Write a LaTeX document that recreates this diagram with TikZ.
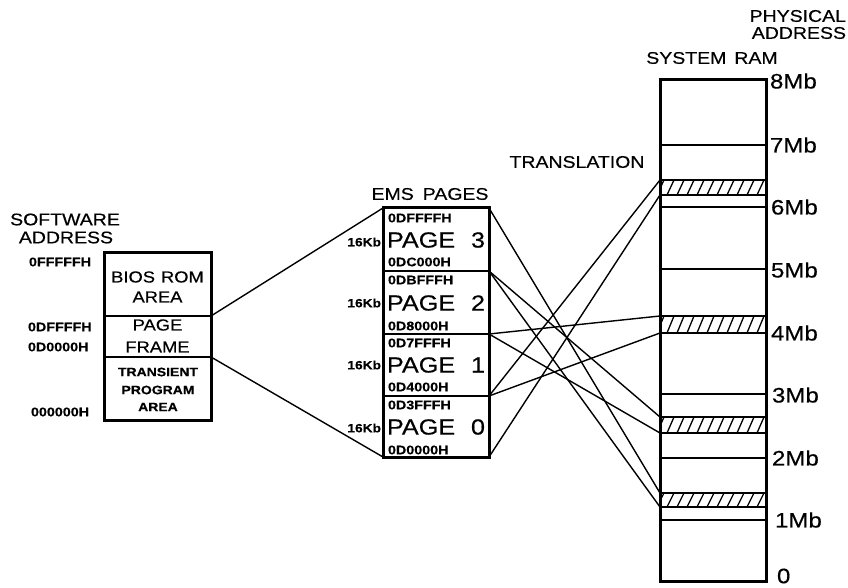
\documentclass[tikz,border=0pt]{standalone}
\usepackage{fontspec}
\setmainfont{Liberation Sans}
\newfontfamily\hf[FakeStretch=1.15,FakeBold=0.4]{Liberation Sans}
\newcommand\fsz[1]{\fontsize{#1}{#1}\selectfont}
\begin{document}
\begin{tikzpicture}[x=1bp,y=-1bp,
  every node/.style={inner sep=0pt,outer sep=0pt},
  outline/.style={line width=3bp},
  divider/.style={line width=1.8bp},
  conn/.style={line width=1.4bp},
  hatch/.style={line width=1.3bp},
  swcell/.style={draw,divider,anchor=north west,minimum width=107bp},
  emscell/.style={draw,divider,anchor=north west,minimum width=106bp},
  band/.style={draw,line width=2bp,anchor=north west,minimum width=106bp},
  title/.style={font=\hf\fsz{17}},
  hexlbl/.style={font=\hf\bfseries\fsz{12.5}},
  kblbl/.style={font=\hf\bfseries\fsz{12},anchor=east},
  pagelbl/.style={font=\hf\fsz{22}},
  mblbl/.style={font=\hf\fsz{21},anchor=west},
  boxtxt/.style={font=\hf\fsz{16}},
  smalltxt/.style={font=\hf\bfseries\fsz{12.2}}
]
\useasboundingbox (0,0) rectangle (848,588);

% ---------- software address box ----------
\node[swcell,minimum height=64bp] (bios) at (104,252) {};
\node[swcell,minimum height=41bp] (frame) at (104,316) {};
\node[swcell,minimum height=63bp] (tpa) at (104,357) {};
\draw[outline] (bios.north west) rectangle (tpa.south east);

\node[title] (swt1) at (65,219.5) {SOFTWARE};
\node[title] (swt2) at (66,237.5) {ADDRESS};
\node[hexlbl,anchor=west] (a1) at (29,262) {0FFFFFH};
\node[hexlbl,anchor=west] (a2) at (28,327) {0DFFFFH};
\node[hexlbl,anchor=west] (a3) at (28,347) {0D0000H};
\node[hexlbl,anchor=west] (a4) at (31,412) {000000H};

\node[boxtxt] (t1) at (157.5,277) {BIOS\hspace{6bp}ROM};
\node[boxtxt] (t2) at (157.5,297) {AREA};
\node[boxtxt] (t3) at (157.5,325) {PAGE};
\node[boxtxt] (t4) at (157.5,347) {FRAME};
\node[smalltxt] (t5) at (158,372) {TRANSIENT};
\node[smalltxt] (t6) at (158,390) {PROGRAM};
\node[smalltxt] (t7) at (158,407) {AREA};

% ---------- EMS pages ----------
\node[emscell,minimum height=63bp] (p3) at (383,208) {};
\node[emscell,minimum height=63bp] (p2) at (383,271) {};
\node[emscell,minimum height=62bp] (p1) at (383,334) {};
\node[emscell,minimum height=61bp] (p0) at (383,396) {};
\draw[outline] (p3.north west) rectangle (p0.south east);

\node[title] (emst) at (430,194) {EMS\hspace{9bp}PAGES};

\node[hexlbl,anchor=west] (h3a) at (388,218) {0DFFFFH};
\node[pagelbl,anchor=west] (pg3) at (387,240) {PAGE};
\node[pagelbl,anchor=east] (n3) at (485,240) {3};
\node[hexlbl,anchor=west] (h3b) at (388,262) {0DC000H};
\node[kblbl] (k3) at (381,242) {16Kb};

\node[hexlbl,anchor=west] (h2a) at (388,280) {0DBFFFH};
\node[pagelbl,anchor=west] (pg2) at (387,303) {PAGE};
\node[pagelbl,anchor=east] (n2) at (485,303) {2};
\node[hexlbl,anchor=west] (h2b) at (388,326) {0D8000H};
\node[kblbl] (k2) at (381,303) {16Kb};

\node[hexlbl,anchor=west] (h1a) at (388,343) {0D7FFFH};
\node[pagelbl,anchor=west] (pg1) at (387,365) {PAGE};
\node[pagelbl,anchor=east] (n1) at (485,365) {1};
\node[hexlbl,anchor=west] (h1b) at (388,387) {0D4000H};
\node[kblbl] (k1) at (381,365) {16Kb};

\node[hexlbl,anchor=west] (h0a) at (388,405) {0D3FFFH};
\node[pagelbl,anchor=west] (pg0) at (387,427) {PAGE};
\node[pagelbl,anchor=east] (n0) at (485,427) {0};
\node[hexlbl,anchor=west] (h0b) at (388,450) {0D0000H};
\node[kblbl] (k0) at (381,428) {16Kb};

% ---------- system RAM ----------
\node[anchor=north west,minimum width=106bp,minimum height=501bp] (ram) at (660,80) {};
\foreach \yy in {145,207,269,394,458,520}
  \draw[divider] (660,\yy) -- (766,\yy);
\node[band,minimum height=15bp] (b1) at (660,180) {};
\node[band,minimum height=17bp] (b2) at (660,316) {};
\node[band,minimum height=16bp] (b3) at (660,417) {};
\node[band,minimum height=14bp] (b4) at (660,493) {};
\foreach \t/\b in {180/195,316/333,417/433,493/507}{
  \begin{scope}
    \clip (660,\t) rectangle (766,\b);
    \foreach \x in {657,667,...,777}
      \draw[hatch] (\x,\b) -- (\x+7,\t);
  \end{scope}
}
\draw[outline] (ram.north west) rectangle (ram.south east);

\node[font=\hf\fsz{17},anchor=east] (ph1) at (846,16) {PHYSICAL};
\node[font=\hf\fsz{17},anchor=east] (ph2) at (846,33) {ADDRESS};
\node[title] (sysram) at (712,58) {SYSTEM\hspace{8bp}RAM};
\node[title] (trans) at (577,162) {TRANSLATION};

\node[mblbl] (m8) at (770,81) {8Mb};
\node[mblbl] (m7) at (770,145) {7Mb};
\node[mblbl] (m6) at (771,207) {6Mb};
\node[mblbl] (m5) at (771,270) {5Mb};
\node[mblbl] (m4) at (771,333) {4Mb};
\node[mblbl] (m3) at (772,395) {3Mb};
\node[mblbl] (m2) at (772,458) {2Mb};
\node[mblbl] (m1) at (775,520) {1Mb};
\node[mblbl] (m0) at (777,576) {0};

% ---------- connectors ----------
\draw[conn] (frame.north east) -- (p3.north west);
\draw[conn] (frame.south east) -- (p0.south west);
\draw[conn] (p0.north east) -- (b1.north west);
\draw[conn] (p0.south east) -- (b1.south west);
\draw[conn] (p1.north east) -- (b2.north west);
\draw[conn] (p1.south east) -- (b2.south west);
\draw[conn] (p2.north east) -- (b3.north west);
\draw[conn] (p2.south east) -- (b3.south west);
\draw[conn] (p3.north east) -- (b4.north west);
\draw[conn] (p3.south east) -- (b4.south west);
\end{tikzpicture}
\end{document}
